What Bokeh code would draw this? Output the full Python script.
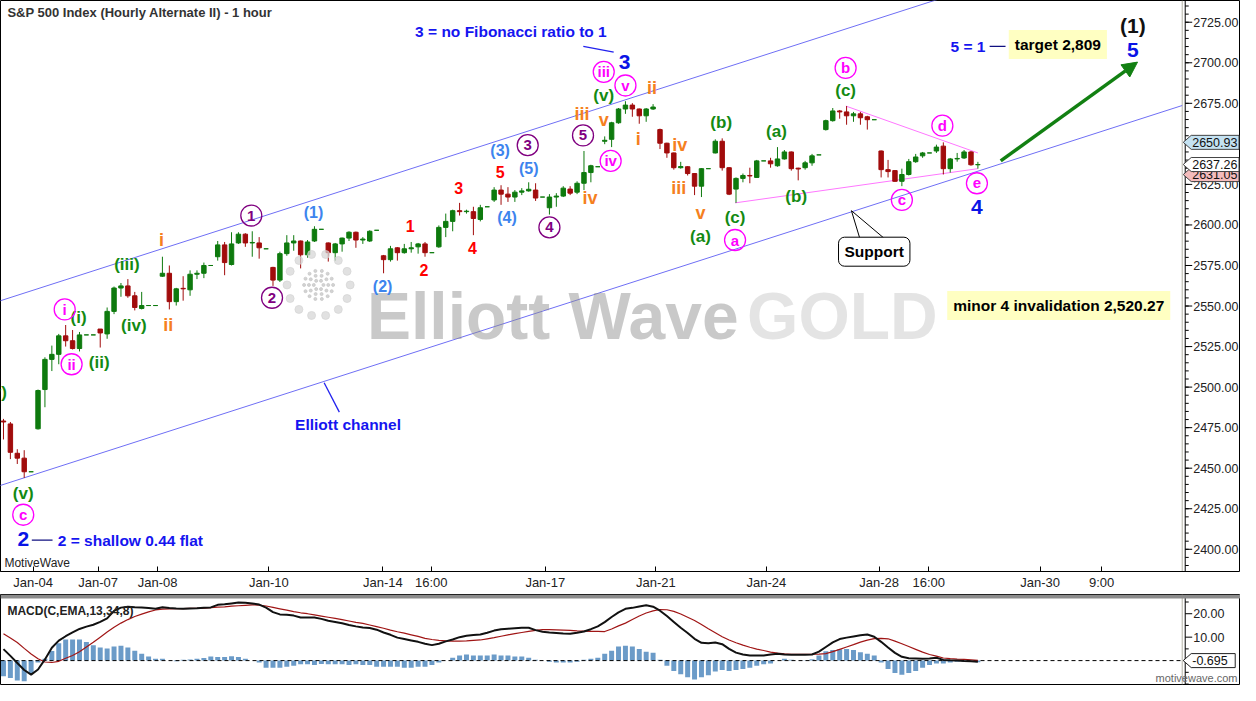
import numpy as np
from bokeh.plotting import figure
from bokeh.models import (ColumnDataSource, Range1d, FixedTicker, Label, Arrow, NormalHead,
                          BoxAnnotation)
from bokeh.layouts import column
from bokeh.embed import file_html
from bokeh.resources import INLINE
from bokeh.core.properties import value

# ---------------- data (hourly bars, index 0..141) ----------------
bar_open = [2479.1, 2477.3, 2459.2, 2456.2, 2447.8, 2474.3, 2498.5, 2517.1, 2520.2, 2531.6,
            2528.6, 2523.8, 2532.2, 2532.2, 2535.8, 2532.8, 2546.7, 2561.1, 2562.4, 2556.3,
            2548.5, 2550.3, 2550.3, 2568.4, 2570.2, 2552.7, 2560.9, 2560.0, 2569.6, 2570.2,
            2575.0, 2580.4, 2587.7, 2575.6, 2588.9, 2594.3, 2588.9, 2588.9, 2585.3, 2573.8,
            2566.0, 2582.3, 2588.9, 2590.1, 2581.6, 2590.1, 2597.3, 2588.9, 2582.9, 2588.3,
            2591.9, 2595.5, 2590.7, 2590.1, 2596.7, 2581.0, 2578.6, 2585.9, 2582.9, 2585.3,
            2586.5, 2588.3, 2582.9, 2586.5, 2598.5, 2602.2, 2608.8, 2608.2, 2608.2, 2603.4,
            2611.2, 2615.4, 2621.5, 2619.0, 2617.2, 2620.2, 2621.0, 2621.5, 2617.2, 2610.6,
            2617.2, 2617.8, 2622.1, 2620.2, 2625.7, 2632.3, 2635.9, 2651.6, 2652.8, 2663.0,
            2671.5, 2673.9, 2671.5, 2667.3, 2671.5, 2658.8, 2650.4, 2644.4, 2635.3, 2635.9,
            2631.7, 2623.9, 2634.7, 2644.4, 2651.6, 2635.3, 2622.1, 2628.7, 2630.5, 2629.3,
            2639.5, 2639.5, 2636.5, 2640.7, 2645.0, 2635.0, 2635.3, 2638.3, 2643.2, 2658.8,
            2664.3, 2670.3, 2669.7, 2667.3, 2668.5, 2666.7, 2664.9, 2645.6, 2634.1, 2633.5,
            2626.9, 2631.1, 2639.0, 2642.6, 2644.4, 2645.6, 2648.6, 2634.7, 2640.7, 2641.3,
            2645.0, 2637.1]
bar_high = [2480.4, 2478.5, 2461.7, 2461.1, 2447.8, 2498.5, 2518.4, 2525.6, 2532.8, 2538.3,
            2535.2, 2534.0, 2532.2, 2532.2, 2535.8, 2549.1, 2562.0, 2564.2, 2566.6, 2558.7,
            2558.7, 2550.3, 2550.3, 2580.4, 2575.0, 2561.2, 2568.4, 2572.0, 2572.0, 2576.8,
            2575.0, 2590.1, 2589.5, 2595.5, 2595.5, 2594.9, 2596.1, 2592.5, 2585.3, 2574.2,
            2583.5, 2593.7, 2593.7, 2590.4, 2590.7, 2599.2, 2597.3, 2589.2, 2588.9, 2592.2,
            2596.1, 2595.9, 2592.5, 2596.7, 2596.7, 2581.5, 2587.1, 2586.3, 2588.3, 2589.5,
            2588.9, 2589.5, 2582.9, 2599.7, 2607.0, 2609.4, 2613.6, 2609.4, 2611.2, 2612.4,
            2611.2, 2623.3, 2624.5, 2623.3, 2621.5, 2622.7, 2626.3, 2625.7, 2617.2, 2619.0,
            2619.6, 2623.9, 2623.9, 2626.9, 2645.6, 2637.1, 2635.9, 2654.6, 2663.6, 2672.1,
            2676.3, 2675.1, 2671.8, 2672.1, 2674.5, 2659.4, 2650.7, 2644.7, 2638.9, 2636.2,
            2632.0, 2635.0, 2634.7, 2652.8, 2653.4, 2635.6, 2629.3, 2631.7, 2635.3, 2640.1,
            2639.5, 2641.4, 2648.0, 2646.2, 2645.3, 2635.3, 2639.5, 2643.8, 2643.2, 2664.9,
            2672.1, 2670.9, 2673.3, 2669.7, 2669.7, 2667.3, 2664.9, 2645.9, 2640.1, 2633.8,
            2634.7, 2640.7, 2643.8, 2645.0, 2644.4, 2649.5, 2650.93, 2641.3, 2644.4, 2646.2,
            2645.6, 2638.9]
bar_low = [2467.7, 2455.6, 2452.6, 2444.0, 2447.8, 2473.8, 2487.6, 2509.9, 2514.1, 2525.0,
           2523.2, 2522.0, 2532.2, 2532.2, 2524.4, 2529.8, 2545.0, 2555.7, 2555.1, 2547.3,
           2547.9, 2550.3, 2550.3, 2568.0, 2547.9, 2550.3, 2553.3, 2556.3, 2566.6, 2567.2,
           2575.0, 2578.0, 2569.0, 2575.0, 2588.3, 2586.5, 2580.4, 2579.2, 2585.3, 2562.4,
           2564.8, 2581.0, 2584.1, 2573.2, 2579.8, 2589.5, 2597.3, 2577.4, 2578.0, 2583.5,
           2590.1, 2585.9, 2588.3, 2589.5, 2596.7, 2570.2, 2577.4, 2578.0, 2582.3, 2582.9,
           2582.3, 2580.4, 2582.9, 2585.9, 2592.5, 2596.1, 2605.8, 2607.0, 2593.7, 2602.2,
           2611.2, 2614.2, 2612.4, 2614.2, 2614.2, 2618.4, 2620.5, 2614.8, 2617.2, 2606.4,
           2611.2, 2617.2, 2618.4, 2619.0, 2621.5, 2626.3, 2635.9, 2649.8, 2648.0, 2662.4,
           2668.5, 2666.7, 2662.4, 2663.6, 2670.9, 2646.8, 2641.4, 2634.1, 2634.7, 2630.5,
           2618.4, 2617.2, 2634.7, 2644.1, 2633.5, 2618.4, 2613.6, 2626.3, 2625.7, 2629.1,
           2639.5, 2635.3, 2635.9, 2640.3, 2633.5, 2627.5, 2634.1, 2636.5, 2643.2, 2658.2,
           2663.7, 2665.5, 2661.8, 2663.6, 2661.8, 2658.8, 2664.9, 2629.3, 2629.3, 2626.6,
           2623.9, 2630.5, 2638.3, 2641.4, 2644.4, 2644.4, 2631.1, 2632.3, 2639.0, 2640.7,
           2636.5, 2634.7]
bar_close = [2478.5, 2459.8, 2456.2, 2447.8, 2447.8, 2497.9, 2517.1, 2520.2, 2531.6, 2528.6,
             2523.8, 2532.2, 2532.2, 2532.2, 2533.4, 2546.7, 2561.1, 2562.4, 2556.3, 2549.1,
             2550.3, 2550.3, 2550.3, 2570.2, 2552.7, 2560.6, 2560.6, 2569.6, 2570.2, 2575.0,
             2575.0, 2587.7, 2576.8, 2588.3, 2594.3, 2588.9, 2589.2, 2585.9, 2585.3, 2566.0,
             2582.3, 2588.9, 2590.1, 2581.6, 2589.5, 2597.3, 2597.3, 2582.9, 2588.3, 2591.9,
             2595.5, 2590.7, 2591.3, 2596.1, 2596.7, 2578.6, 2585.3, 2582.9, 2585.3, 2585.9,
             2588.3, 2582.9, 2582.9, 2598.5, 2602.2, 2608.8, 2608.2, 2608.5, 2604.0, 2610.6,
             2611.2, 2621.5, 2619.0, 2617.2, 2620.2, 2621.0, 2622.0, 2616.6, 2617.2, 2617.2,
             2617.8, 2622.7, 2619.6, 2625.7, 2632.3, 2636.5, 2635.9, 2652.2, 2663.0, 2671.5,
             2673.9, 2671.5, 2667.3, 2671.5, 2672.7, 2650.4, 2644.4, 2635.3, 2636.0, 2631.7,
             2623.9, 2634.7, 2634.7, 2651.6, 2635.3, 2619.0, 2628.7, 2630.5, 2630.2, 2639.5,
             2639.5, 2637.7, 2640.7, 2645.0, 2634.7, 2634.5, 2638.3, 2642.6, 2643.2, 2664.3,
             2670.3, 2669.7, 2667.3, 2668.5, 2666.1, 2664.9, 2664.9, 2634.1, 2632.9, 2626.9,
             2631.1, 2639.0, 2641.9, 2644.4, 2644.4, 2648.0, 2634.7, 2640.7, 2641.0, 2645.0,
             2637.1, 2637.26]

macd_line = [4.9, 2.0, -1.0, -4.0, -6.0, -3.8, 0.5, 5.5, 8.5, 10.4,
             12.0, 13.5, 14.5, 15.3, 16.5, 18.0, 21.2, 22.6, 23.0, 22.8,
             22.7, 22.4, 22.1, 22.8, 22.4, 22.2, 22.1, 22.2, 22.3, 22.5,
             22.7, 23.8, 24.0, 24.4, 24.8, 24.7, 24.4, 23.9, 22.6, 20.7,
             19.7, 19.6, 19.2, 18.4, 18.4, 18.4, 17.8, 17.0, 16.5, 15.9,
             15.2, 14.6, 14.1, 13.9, 13.2, 12.0, 11.0, 9.8, 9.2, 8.6,
             8.0, 7.2, 6.6, 7.2, 8.2, 9.0, 10.0, 10.6, 10.9, 11.1,
             11.9, 12.8, 13.4, 13.6, 13.8, 14.0, 14.0, 13.0, 12.3, 12.0,
             11.8, 11.6, 11.5, 11.9, 12.4, 13.4, 14.6, 16.4, 18.6, 20.6,
             22.1, 22.5, 23.1, 23.6, 23.0, 21.3, 19.0, 16.5, 14.0, 11.8,
             9.3, 7.6, 7.4, 7.7, 7.0, 5.0, 3.4, 2.6, 2.2, 2.2,
             2.2, 2.6, 2.9, 2.6, 2.5, 2.5, 2.5, 2.6, 3.8, 5.8,
             7.8, 9.2, 9.8, 10.3, 10.8, 11.1, 10.2, 8.0, 5.6, 3.3,
             1.6, 1.0, 0.9, 0.8, 0.9, 1.2, 0.3, 0.1, 0.0, -0.2,
             -0.3, -0.5]
macd_signal = [11.5, 9.6, 7.7, 5.2, 2.8, 0.8, -0.6, -0.8, -0.3, 1.0,
               2.2, 3.8, 5.8, 7.8, 10.0, 12.2, 14.2, 16.0, 17.5, 18.8,
               19.8, 20.8, 21.6, 22.0, 22.1, 22.2, 22.2, 22.3, 22.3, 22.4,
               22.6, 22.8, 22.9, 23.2, 23.4, 23.6, 23.8, 23.7, 23.3, 22.7,
               22.1, 21.5, 20.9, 20.4, 20.0, 19.5, 19.0, 18.5, 18.0, 17.5,
               16.9, 16.3, 15.9, 15.2, 14.5, 13.8, 13.0, 12.3, 11.7, 11.0,
               10.3, 9.5, 9.0, 8.6, 8.4, 8.3, 8.3, 8.4, 8.6, 8.8,
               9.3, 9.8, 10.4, 11.0, 11.5, 12.0, 12.5, 12.9, 13.2, 13.2,
               13.1, 13.0, 12.9, 12.7, 12.6, 12.5, 12.5, 12.4, 13.5, 14.8,
               16.0, 17.5, 19.0, 20.3, 21.2, 21.8, 21.7, 21.0, 19.9, 18.5,
               17.1, 15.4, 13.6, 11.9, 10.2, 8.8, 7.6, 6.6, 5.7, 4.9,
               4.3, 3.6, 3.2, 2.9, 2.7, 2.7, 2.7, 2.7, 2.8, 3.0,
               3.8, 4.8, 5.8, 6.8, 7.9, 8.7, 9.4, 9.5, 9.3, 8.3,
               7.2, 6.0, 4.8, 3.6, 2.6, 1.9, 1.1, 0.8, 0.6, 0.5,
               0.3, 0.1]
macd_hist = [-6.7, -7.4, -8.5, -8.8, -5.3, -0.8, 0.8, 4.1, 7.4, 9.0,
             9.0, 9.0, 7.9, 6.6, 5.6, 5.2, 6.0, 6.3, 5.6, 4.2,
             2.9, 1.8, 0.8, 0.8, 0.0, -0.3, 0.4, 0.5, 0.8, 1.1,
             1.8, 1.5, 1.5, 1.9, 1.5, 0.8, 0.0, -0.8, -3.0, -3.0,
             -3.0, -2.6, -2.2, -1.6, -1.6, -1.9, -1.4, -1.6, -1.6, -1.6,
             -1.9, -1.6, -1.9, -1.9, -2.6, -2.6, -2.6, -2.6, -3.0, -3.0,
             -2.6, -2.6, -1.9, -0.8, 0.0, 1.2, 2.2, 2.6, 2.2, 2.2,
             2.2, 2.6, 2.2, 2.2, 1.8, 1.8, 1.2, 0.4, 0.0, -0.5,
             -0.8, -0.8, -0.8, -0.5, 0.4, 0.8, 1.2, 2.9, 4.2, 6.0,
             6.3, 6.0, 4.9, 3.8, 3.3, 0.4, -2.2, -4.4, -5.8, -7.1,
             -8.1, -7.1, -6.3, -4.7, -4.0, -4.4, -4.0, -3.6, -3.0, -2.2,
             -1.6, -1.2, 0.0, 0.8, 0.4, 0.0, 0.2, 0.6, 2.2, 4.0,
             4.5, 4.8, 4.9, 4.5, 3.6, 2.9, 2.2, -0.8, -3.6, -5.3,
             -6.0, -5.3, -4.4, -3.0, -1.9, -1.2, -1.2, -0.8, -0.5, -0.5,
             -0.5, -0.7]

time_tick_pos = [4.3, 13.7, 22.3, 38.4, 54.9, 61.9, 78.4, 94.4, 110.4, 126.7, 133.9, 150.0, 158.9]
time_tick_labels = ["Jan-04", "Jan-07", "Jan-08", "Jan-10", "Jan-14", "16:00", "Jan-17",
                    "Jan-21", "Jan-24", "Jan-28", "16:00", "Jan-30", "9:00"]
price_ticks = [2400, 2425, 2450, 2475, 2500, 2525, 2550, 2575, 2600, 2625, 2650, 2675, 2700, 2725]
price_minor = list(range(2390, 2740, 5))
macd_ticks = [10, 20]
macd_minor = [-10, -5, 0, 5, 15, 25]
price_tags = [2650.93, 2631.05, 2637.26]
price_tag_fill = ["#c4e2f2", "#f4bcbc", "#ffffff"]
macd_tag = -0.695

# Elliott wave labels: text, bar index, price, colour, size, circled
GREEN, ORANGE, RED, LBLUE, PURPLE, PINK, BLUE, BLACK = (
    "#138a13", "#f5801e", "#ff0000", "#3d84ee", "#800080", "#ff00ff", "#0a14e6", "#111111")
wave_text = ["(v)", "i", "(i)", "ii", "(ii)", "(iii)", "(iv)", "i", "ii",
             "1", "(1)", "2", "(2)", "1", "2", "3", "4", "5", "(3)", "(4)", "(5)",
             "3", "4", "5", "iii", "iv", "iv", "v", "(v)", "iii", "v", "3",
             "ii", "i", "iv", "iii", "v", "(a)", "(b)", "(c)", "a", "(a)", "(b)",
             "b", "(c)", "c", "d", "e", "4", "(1)", "5", "(v)", "c", "2"]
wave_x = [-1.0, 8.86, 10.86, 9.86, 13.86, 17.86, 18.86, 22.86, 23.86,
          35.86, 44.86, 38.86, 54.86, 58.86, 60.86, 65.86, 67.86, 71.86, 71.86, 72.86, 76.0,
          75.86, 79.0, 83.86, 83.71, 84.86, 87.86, 86.86, 86.86, 86.86, 90.0, 89.86,
          93.86, 91.86, 97.86, 97.71, 100.86, 100.86, 103.86, 105.86, 105.86, 111.86, 114.71,
          121.86, 121.86, 130.0, 135.86, 140.86, 140.86, 163.43, 163.43, 2.86, 2.86, 2.86]
wave_y = [2496.6, 2547.9, 2543.1, 2514.1, 2515.3, 2575.6, 2538.2, 2590.7, 2538.2,
          2605.8, 2607.6, 2555.1, 2561.8, 2599.1, 2572.0, 2622.7, 2585.9, 2632.9, 2645.6, 2604.6, 2634.7,
          2649.2, 2598.5, 2655.2, 2668.5, 2616.6, 2639.5, 2664.9, 2679.9, 2694.4, 2686.0, 2700.4,
          2684.2, 2652.8, 2649.2, 2622.7, 2607.6, 2593.1, 2663.0, 2604.6, 2590.7, 2657.6, 2617.8,
          2696.8, 2683.0, 2615.4, 2661.2, 2625.7, 2611.2, 2722.8, 2707.7, 2434.5, 2421.3, 2406.2]
wave_color = [GREEN, PINK, GREEN, PINK, GREEN, GREEN, GREEN, ORANGE, ORANGE,
              PURPLE, LBLUE, PURPLE, LBLUE, RED, RED, RED, RED, RED, LBLUE, LBLUE, LBLUE,
              PURPLE, PURPLE, PURPLE, ORANGE, ORANGE, PINK, ORANGE, GREEN, PINK, PINK, BLUE,
              ORANGE, ORANGE, ORANGE, ORANGE, ORANGE, GREEN, GREEN, GREEN, PINK, GREEN, GREEN,
              PINK, GREEN, PINK, PINK, PINK, BLUE, BLACK, BLUE, GREEN, PINK, BLUE]
wave_size = ["17px", "15px", "17px", "15px", "17px", "17px", "17px", "18px", "18px",
             "15px", "16px", "15px", "16px", "16px", "16px", "16px", "16px", "16px", "16px", "16px", "16px",
             "15px", "15px", "15px", "18px", "18px", "15px", "18px", "17px", "15px", "15px", "21px",
             "18px", "18px", "18px", "18px", "18px", "17px", "17px", "17px", "15px", "17px", "17px",
             "15px", "17px", "15px", "15px", "15px", "21px", "21px", "21px", "17px", "15px", "21px"]
wave_circled = [False, True, False, True, False, False, False, False, False,
                True, False, True, False, False, False, False, False, False, False, False, False,
                True, True, True, False, False, True, False, False, True, True, False,
                False, False, False, False, False, False, False, False, True, False, False,
                True, False, True, True, True, False, False, False, False, True, False]

FONT = "Liberation Sans"
W = 1240
X0, X1 = -0.43, 179.0        # bar index range covering the whole width
AX = 171.0                   # where the value axis sits (bar-index units)
PX = (X1 - X0) / W           # bar units per pixel

# ---------------- main price chart ----------------
p = figure(width=W, height=594, x_range=Range1d(X0, X1), y_range=Range1d(2386.3, 2738.4),
           y_axis_location=None, output_backend="svg", toolbar_location=None,
           min_border_left=0, min_border_right=0, min_border_top=0, min_border_bottom=23)
p.xgrid.visible = False
p.ygrid.visible = False
p.outline_line_color = "black"
p.background_fill_color = "white"

p.xaxis.ticker = FixedTicker(ticks=time_tick_pos, minor_ticks=[])
p.xaxis.major_label_overrides = {t: l for t, l in zip(time_tick_pos, time_tick_labels)}
p.xaxis.bounds = (X0, AX)
p.xaxis.major_tick_in = 5
p.xaxis.major_tick_out = 0
p.xaxis.major_label_standoff = 3
p.xaxis.major_label_text_font = FONT
p.xaxis.major_label_text_font_size = "13px"
p.xaxis.major_label_text_color = "#222222"
p.xaxis.axis_line_color = "black"

# value axis on the right (drawn in data space so the price tags can sit on it)
YPX = (2738.4 - 2386.3) / 571.0
p.line([AX - 3 * PX, AX - 3 * PX], [2386.3, 2738.4], line_color="#b5b3a8", line_width=1)
p.line([AX, AX], [2386.3, 2738.4], line_color="black", line_width=1)
p.segment(x0=[AX] * len(price_minor), y0=price_minor, x1=[AX + 3.5 * PX] * len(price_minor),
          y1=price_minor, line_color="black", line_width=1)
p.segment(x0=[AX] * len(price_ticks), y0=price_ticks, x1=[AX + 7 * PX] * len(price_ticks),
          y1=price_ticks, line_color="black", line_width=1)
p.text(x=[AX + 8 * PX] * len(price_ticks), y=price_ticks, text=[f"{v:.2f}" for v in price_ticks],
       text_font=value(FONT), text_font_size="12.5px", text_color="#222222",
       text_align="left", text_baseline="middle")

# channel + triangle lines
p.line([-1, AX - 3 * PX], [2552.5, 2552.5 + 1.37 * (AX - 3 * PX + 1)], line_color="#6f6ff5", line_width=1)
p.line([-1, AX - 3 * PX], [2438.6, 2438.6 + 1.37 * (AX - 3 * PX + 1)], line_color="#6f6ff5", line_width=1)
p.line([121.9, 141.0], [2673.3, 2644.4], line_color="#ff77ff", line_width=1)
p.line([105.86, 141.0], [2613.6, 2634.7], line_color="#ff77ff", line_width=1)

# candles
idx = list(range(len(bar_open)))
col = ["#0e7a0e" if c >= o else "#a10c0c" for o, c in zip(bar_open, bar_close)]
src = ColumnDataSource(dict(x=idx, o=bar_open, h=bar_high, l=bar_low, c=bar_close,
                            top=[max(o, c) for o, c in zip(bar_open, bar_close)],
                            bot=[min(o, c) for o, c in zip(bar_open, bar_close)], col=col))
p.segment(x0="x", y0="h", x1="x", y1="l", source=src, line_color="col", line_width=1)
p.vbar(x="x", top="top", bottom="bot", width=0.64, source=src, fill_color="col",
       line_color="col", line_width=1)

# watermark
p.text(x=[52.6], y=[2544.0], text=["Elliott Wave"], text_color="#8f8f8f", text_alpha=0.48,
       text_font=value(FONT), text_font_style="bold",
       text_font_size="66px", text_baseline="alphabetic", text_align="left")
p.text(x=[107.6], y=[2544.0], text=["GOLD"], text_color="#c4c4c4", text_alpha=0.45,
       text_font=value(FONT), text_font_style="bold",
       text_font_size="66px", text_baseline="alphabetic", text_align="left")
ang = np.linspace(0, 2 * np.pi, 15)[:-1]
p.scatter(45.6 + 4.57 * np.cos(ang), 2563.0 + 19.3 * np.sin(ang), size=8,
          color="#d4d4d4", alpha=0.7, marker="circle")
for r, n in [(0.7, 6), (1.4, 10), (2.1, 14)]:
    a2 = np.linspace(0, 2 * np.pi, n + 1)[:-1]
    p.scatter(45.6 + r * np.cos(a2), 2563.0 + r * 4.22 * np.sin(a2), size=3,
              color="#c8c8c8", alpha=0.8, marker="circle")

# wave labels
wsrc = ColumnDataSource(dict(x=wave_x, y=wave_y, t=wave_text, c=wave_color, s=wave_size))
p.text(x="x", y="y", text="t", text_color="c", text_font_size="s", source=wsrc,
       text_font=value(FONT), text_font_style="bold", text_align="center", text_baseline="middle")
csrc = ColumnDataSource(dict(x=[x for x, k in zip(wave_x, wave_circled) if k],
                             y=[y for y, k in zip(wave_y, wave_circled) if k],
                             c=[c for c, k in zip(wave_color, wave_circled) if k]))
p.scatter(x="x", y="y", source=csrc, size=21, marker="circle", fill_color=None,
          line_color="c", line_width=1.3)

# pointer lines
p.line([83.9, 88.3], [2710.1, 2706.5], line_color="#2222ee", line_width=1.3)
p.line([142.7, 145.0], [2710.1, 2710.1], line_color="#101080", line_width=1.3)
p.line([4.1, 7.1], [2405.6, 2405.6], line_color="#101080", line_width=1.3)
p.line([46.4, 48.6], [2502.7, 2484.6], line_color="#2222ee", line_width=1.3)

# price tags on the value axis
for v, bg in zip(price_tags, price_tag_fill):
    h = 7 * YPX
    p.patch([AX - 2 * PX, AX + 6 * PX, X1 - 1.5 * PX, X1 - 1.5 * PX, AX + 6 * PX],
            [v, v + h, v + h, v - h, v - h], fill_color=bg, line_color="#444444", line_width=1)
    p.text(x=[AX + 7 * PX], y=[v], text=[f"{v:.2f}"], text_font=value(FONT), text_font_size="12.5px",
           text_color="#111111", text_align="left", text_baseline="middle")

# text annotations
def txt(x, y, t, color, size="15.5px", align="center", bold=True):
    p.add_layout(Label(x=x, y=y, text=t, text_color=color, text_font=FONT, text_font_size=size,
                       text_font_style="bold" if bold else "normal", text_align=align,
                       text_baseline="middle"))

txt(0.57, 2731.2, "S&P 500 Index (Hourly Alternate II) - 1 hour", "#333333", size="13px", align="left")
txt(0.14, 2391.7, "MotiveWave", "#222222", size="12px", align="left", bold=False)
txt(73.43, 2719.1, "3 = no Fibonacci ratio to 1", "#1515f0")
txt(139.57, 2710.1, "5 = 1", "#1515f0")
txt(7.86, 2405.6, "2 = shallow 0.44 flat", "#1515f0", align="left")
txt(49.86, 2476.7, "Elliott channel", "#1515f0")

# support callout pointer
p.patch([122.7, 123.9, 127.4], [2608.8, 2591.9, 2591.9], fill_color="white", line_color="black", line_width=1)

def box(x, y, t, bg, shadow=5, radius=0, border=None):
    p.add_layout(Label(x=x, y=y, text=t, text_alpha=0, text_font=FONT, text_font_size="15.5px",
                       text_font_style="bold", text_align="center", text_baseline="middle",
                       background_fill_color="#8a8a8a", padding=6, border_radius=radius,
                       x_offset=shadow, y_offset=-shadow))
    p.add_layout(Label(x=x, y=y, text=t, text_color="black", text_font=FONT, text_font_size="15.5px",
                       text_font_style="bold", text_align="center", text_baseline="middle",
                       background_fill_color=bg, padding=6, border_radius=radius,
                       border_line_color=border))

box(152.57, 2711.3, "target 2,809", "#ffffc2")
box(152.7, 2550.3, "minor 4 invalidation 2,520.27", "#ffffc2")
box(126.0, 2583.5, "Support", "white", shadow=4, radius=6, border="black")

p.add_layout(Arrow(end=NormalHead(size=15, fill_color="#128012", line_color="#128012"),
                   x_start=144.3, y_start=2639.5, x_end=164.1, y_end=2700.4,
                   line_color="#128012", line_width=3.5))

# ---------------- MACD panel ----------------
MY0, MY1 = -10.2, 28.2
q = figure(width=W, height=91, x_range=p.x_range, y_range=Range1d(MY0, MY1),
           y_axis_location=None, x_axis_location=None, output_backend="svg",
           toolbar_location=None, min_border_left=0, min_border_right=0,
           min_border_top=0, min_border_bottom=1)
q.xgrid.visible = False
q.ygrid.visible = False
q.outline_line_color = "black"
MPX = (MY1 - MY0) / 90.0

q.vbar(x=idx, top=macd_hist, bottom=0, width=0.72, fill_color="#6b9bc8", line_color=None)
q.line([X0, AX], [0, 0], line_color="black", line_dash="4 3", line_width=1)
q.line(idx, macd_signal, line_color="#a01515", line_width=1.2)
q.line(idx, macd_line, line_color="#111111", line_width=2)

q.line([AX - 3 * PX, AX - 3 * PX], [MY0, MY1], line_color="#b5b3a8", line_width=1)
q.line([AX, AX], [MY0, MY1], line_color="black", line_width=1)
q.segment(x0=[AX] * len(macd_minor), y0=macd_minor, x1=[AX + 3.5 * PX] * len(macd_minor),
          y1=macd_minor, line_color="black", line_width=1)
q.segment(x0=[AX] * len(macd_ticks), y0=macd_ticks, x1=[AX + 7 * PX] * len(macd_ticks),
          y1=macd_ticks, line_color="black", line_width=1)
q.text(x=[AX + 8 * PX] * len(macd_ticks), y=macd_ticks, text=[f"{v:.2f}" for v in macd_ticks],
       text_font=value(FONT), text_font_size="12.5px", text_color="#222222",
       text_align="left", text_baseline="middle")
h = 7 * MPX
q.patch([AX - 2 * PX, AX + 6 * PX, AX + 50 * PX, AX + 50 * PX, AX + 6 * PX],
        [0, h, h, -h, -h], fill_color="white", line_color="#222222", line_width=1)
q.text(x=[AX + 7 * PX], y=[0], text=[f"{macd_tag:.3f}"], text_font=value(FONT),
       text_font_size="12.5px", text_color="#111111", text_align="left", text_baseline="middle")
q.text(x=[X1 - 3 * PX], y=[-7.3], text=["motivewave.com"], text_font=value(FONT),
       text_font_size="11px", text_color="#666666", text_align="right", text_baseline="middle")

q.add_layout(BoxAnnotation(bottom=26.5, fill_color="#8c8c8c", fill_alpha=1, line_color=None))
q.add_layout(Label(x=0.57, y=21.0, text="MACD(C,EMA,13,34,8)", text_font=FONT, text_font_size="12px",
                   text_font_style="bold", text_color="#222222", text_baseline="middle"))

layout = column(p, q, spacing=0)
open("out.html", "w").write(file_html(layout, INLINE))
